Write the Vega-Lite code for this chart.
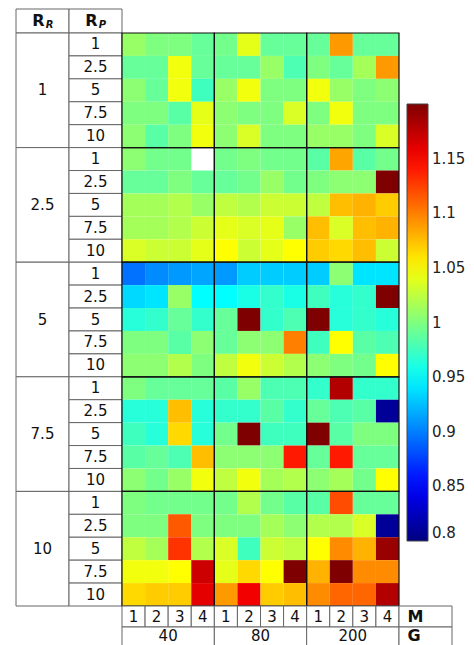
{
"$schema":"https://vega.github.io/schema/vega-lite/v6.json",
"padding":{"left":15,"top":8,"right":0,"bottom":0},
"background":"white",
"config":{"view":{"stroke":null},"font":"DejaVu Sans","concat":{"spacing":0}},
"datasets":{
"cells":[
{"rr":1,"rp":1,"g":40,"m":1,"v":1.01},{"rr":1,"rp":1,"g":40,"m":2,"v":1.0},{"rr":1,"rp":1,"g":40,"m":3,"v":1.0},{"rr":1,"rp":1,"g":40,"m":4,"v":0.99},
{"rr":1,"rp":1,"g":80,"m":1,"v":0.995},{"rr":1,"rp":1,"g":80,"m":2,"v":1.04},{"rr":1,"rp":1,"g":80,"m":3,"v":0.99},{"rr":1,"rp":1,"g":80,"m":4,"v":0.99},
{"rr":1,"rp":1,"g":200,"m":1,"v":0.99},{"rr":1,"rp":1,"g":200,"m":2,"v":1.09},{"rr":1,"rp":1,"g":200,"m":3,"v":0.99},{"rr":1,"rp":1,"g":200,"m":4,"v":0.99},
{"rr":1,"rp":2.5,"g":40,"m":1,"v":0.99},{"rr":1,"rp":2.5,"g":40,"m":2,"v":0.99},{"rr":1,"rp":2.5,"g":40,"m":3,"v":1.045},{"rr":1,"rp":2.5,"g":40,"m":4,"v":0.99},
{"rr":1,"rp":2.5,"g":80,"m":1,"v":0.99},{"rr":1,"rp":2.5,"g":80,"m":2,"v":0.99},{"rr":1,"rp":2.5,"g":80,"m":3,"v":1.01},{"rr":1,"rp":2.5,"g":80,"m":4,"v":0.98},
{"rr":1,"rp":2.5,"g":200,"m":1,"v":1.0},{"rr":1,"rp":2.5,"g":200,"m":2,"v":0.99},{"rr":1,"rp":2.5,"g":200,"m":3,"v":1.015},{"rr":1,"rp":2.5,"g":200,"m":4,"v":1.09},
{"rr":1,"rp":5,"g":40,"m":1,"v":1.005},{"rr":1,"rp":5,"g":40,"m":2,"v":0.99},{"rr":1,"rp":5,"g":40,"m":3,"v":1.045},{"rr":1,"rp":5,"g":40,"m":4,"v":0.975},
{"rr":1,"rp":5,"g":80,"m":1,"v":1.01},{"rr":1,"rp":5,"g":80,"m":2,"v":1.045},{"rr":1,"rp":5,"g":80,"m":3,"v":1.0},{"rr":1,"rp":5,"g":80,"m":4,"v":1.0},
{"rr":1,"rp":5,"g":200,"m":1,"v":1.045},{"rr":1,"rp":5,"g":200,"m":2,"v":1.01},{"rr":1,"rp":5,"g":200,"m":3,"v":1.0},{"rr":1,"rp":5,"g":200,"m":4,"v":1.005},
{"rr":1,"rp":7.5,"g":40,"m":1,"v":1.0},{"rr":1,"rp":7.5,"g":40,"m":2,"v":1.0},{"rr":1,"rp":7.5,"g":40,"m":3,"v":0.985},{"rr":1,"rp":7.5,"g":40,"m":4,"v":1.04},
{"rr":1,"rp":7.5,"g":80,"m":1,"v":1.005},{"rr":1,"rp":7.5,"g":80,"m":2,"v":1.0},{"rr":1,"rp":7.5,"g":80,"m":3,"v":1.0},{"rr":1,"rp":7.5,"g":80,"m":4,"v":1.035},
{"rr":1,"rp":7.5,"g":200,"m":1,"v":1.0},{"rr":1,"rp":7.5,"g":200,"m":2,"v":1.045},{"rr":1,"rp":7.5,"g":200,"m":3,"v":1.0},{"rr":1,"rp":7.5,"g":200,"m":4,"v":1.0},
{"rr":1,"rp":10,"g":40,"m":1,"v":1.005},{"rr":1,"rp":10,"g":40,"m":2,"v":0.985},{"rr":1,"rp":10,"g":40,"m":3,"v":1.0},{"rr":1,"rp":10,"g":40,"m":4,"v":1.045},
{"rr":1,"rp":10,"g":80,"m":1,"v":1.005},{"rr":1,"rp":10,"g":80,"m":2,"v":1.035},{"rr":1,"rp":10,"g":80,"m":3,"v":1.0},{"rr":1,"rp":10,"g":80,"m":4,"v":1.0},
{"rr":1,"rp":10,"g":200,"m":1,"v":1.01},{"rr":1,"rp":10,"g":200,"m":2,"v":1.01},{"rr":1,"rp":10,"g":200,"m":3,"v":1.0},{"rr":1,"rp":10,"g":200,"m":4,"v":1.035},

{"rr":2.5,"rp":1,"g":40,"m":1,"v":1.005},{"rr":2.5,"rp":1,"g":40,"m":2,"v":0.995},{"rr":2.5,"rp":1,"g":40,"m":3,"v":0.995},
{"rr":2.5,"rp":1,"g":80,"m":1,"v":0.995},{"rr":2.5,"rp":1,"g":80,"m":2,"v":1.0},{"rr":2.5,"rp":1,"g":80,"m":3,"v":0.995},{"rr":2.5,"rp":1,"g":80,"m":4,"v":0.995},
{"rr":2.5,"rp":1,"g":200,"m":1,"v":0.985},{"rr":2.5,"rp":1,"g":200,"m":2,"v":1.085},{"rr":2.5,"rp":1,"g":200,"m":3,"v":0.985},{"rr":2.5,"rp":1,"g":200,"m":4,"v":0.995},
{"rr":2.5,"rp":2.5,"g":40,"m":1,"v":0.99},{"rr":2.5,"rp":2.5,"g":40,"m":2,"v":0.99},{"rr":2.5,"rp":2.5,"g":40,"m":3,"v":1.0},{"rr":2.5,"rp":2.5,"g":40,"m":4,"v":0.99},
{"rr":2.5,"rp":2.5,"g":80,"m":1,"v":0.99},{"rr":2.5,"rp":2.5,"g":80,"m":2,"v":0.995},{"rr":2.5,"rp":2.5,"g":80,"m":3,"v":1.01},{"rr":2.5,"rp":2.5,"g":80,"m":4,"v":0.995},
{"rr":2.5,"rp":2.5,"g":200,"m":1,"v":1.0},{"rr":2.5,"rp":2.5,"g":200,"m":2,"v":1.005},{"rr":2.5,"rp":2.5,"g":200,"m":3,"v":1.005},{"rr":2.5,"rp":2.5,"g":200,"m":4,"v":1.2},
{"rr":2.5,"rp":5,"g":40,"m":1,"v":1.015},{"rr":2.5,"rp":5,"g":40,"m":2,"v":1.015},{"rr":2.5,"rp":5,"g":40,"m":3,"v":1.02},{"rr":2.5,"rp":5,"g":40,"m":4,"v":1.01},
{"rr":2.5,"rp":5,"g":80,"m":1,"v":1.025},{"rr":2.5,"rp":5,"g":80,"m":2,"v":1.02},{"rr":2.5,"rp":5,"g":80,"m":3,"v":1.03},{"rr":2.5,"rp":5,"g":80,"m":4,"v":1.03},
{"rr":2.5,"rp":5,"g":200,"m":1,"v":1.025},{"rr":2.5,"rp":5,"g":200,"m":2,"v":1.075},{"rr":2.5,"rp":5,"g":200,"m":3,"v":1.08},{"rr":2.5,"rp":5,"g":200,"m":4,"v":1.07},
{"rr":2.5,"rp":7.5,"g":40,"m":1,"v":1.015},{"rr":2.5,"rp":7.5,"g":40,"m":2,"v":1.015},{"rr":2.5,"rp":7.5,"g":40,"m":3,"v":1.02},{"rr":2.5,"rp":7.5,"g":40,"m":4,"v":1.03},
{"rr":2.5,"rp":7.5,"g":80,"m":1,"v":1.04},{"rr":2.5,"rp":7.5,"g":80,"m":2,"v":1.035},{"rr":2.5,"rp":7.5,"g":80,"m":3,"v":1.04},{"rr":2.5,"rp":7.5,"g":80,"m":4,"v":1.01},
{"rr":2.5,"rp":7.5,"g":200,"m":1,"v":1.075},{"rr":2.5,"rp":7.5,"g":200,"m":2,"v":1.035},{"rr":2.5,"rp":7.5,"g":200,"m":3,"v":1.075},{"rr":2.5,"rp":7.5,"g":200,"m":4,"v":1.08},
{"rr":2.5,"rp":10,"g":40,"m":1,"v":1.035},{"rr":2.5,"rp":10,"g":40,"m":2,"v":1.03},{"rr":2.5,"rp":10,"g":40,"m":3,"v":1.03},{"rr":2.5,"rp":10,"g":40,"m":4,"v":1.04},
{"rr":2.5,"rp":10,"g":80,"m":1,"v":1.05},{"rr":2.5,"rp":10,"g":80,"m":2,"v":1.03},{"rr":2.5,"rp":10,"g":80,"m":3,"v":1.04},{"rr":2.5,"rp":10,"g":80,"m":4,"v":1.05},
{"rr":2.5,"rp":10,"g":200,"m":1,"v":1.07},{"rr":2.5,"rp":10,"g":200,"m":2,"v":1.065},{"rr":2.5,"rp":10,"g":200,"m":3,"v":1.075},{"rr":2.5,"rp":10,"g":200,"m":4,"v":1.03},

{"rr":5,"rp":1,"g":40,"m":1,"v":0.895},{"rr":5,"rp":1,"g":40,"m":2,"v":0.905},{"rr":5,"rp":1,"g":40,"m":3,"v":0.91},{"rr":5,"rp":1,"g":40,"m":4,"v":0.915},
{"rr":5,"rp":1,"g":80,"m":1,"v":0.91},{"rr":5,"rp":1,"g":80,"m":2,"v":0.93},{"rr":5,"rp":1,"g":80,"m":3,"v":0.93},{"rr":5,"rp":1,"g":80,"m":4,"v":0.93},
{"rr":5,"rp":1,"g":200,"m":1,"v":0.93},{"rr":5,"rp":1,"g":200,"m":2,"v":1.005},{"rr":5,"rp":1,"g":200,"m":3,"v":0.94},{"rr":5,"rp":1,"g":200,"m":4,"v":0.94},
{"rr":5,"rp":2.5,"g":40,"m":1,"v":0.935},{"rr":5,"rp":2.5,"g":40,"m":2,"v":0.94},{"rr":5,"rp":2.5,"g":40,"m":3,"v":1.01},{"rr":5,"rp":2.5,"g":40,"m":4,"v":0.95},
{"rr":5,"rp":2.5,"g":80,"m":1,"v":0.95},{"rr":5,"rp":2.5,"g":80,"m":2,"v":0.96},{"rr":5,"rp":2.5,"g":80,"m":3,"v":0.97},{"rr":5,"rp":2.5,"g":80,"m":4,"v":0.96},
{"rr":5,"rp":2.5,"g":200,"m":1,"v":0.975},{"rr":5,"rp":2.5,"g":200,"m":2,"v":0.965},{"rr":5,"rp":2.5,"g":200,"m":3,"v":0.97},{"rr":5,"rp":2.5,"g":200,"m":4,"v":1.2},
{"rr":5,"rp":5,"g":40,"m":1,"v":0.965},{"rr":5,"rp":5,"g":40,"m":2,"v":0.97},{"rr":5,"rp":5,"g":40,"m":3,"v":0.99},{"rr":5,"rp":5,"g":40,"m":4,"v":0.97},
{"rr":5,"rp":5,"g":80,"m":1,"v":0.99},{"rr":5,"rp":5,"g":80,"m":2,"v":1.2},{"rr":5,"rp":5,"g":80,"m":3,"v":0.97},{"rr":5,"rp":5,"g":80,"m":4,"v":0.98},
{"rr":5,"rp":5,"g":200,"m":1,"v":1.2},{"rr":5,"rp":5,"g":200,"m":2,"v":0.965},{"rr":5,"rp":5,"g":200,"m":3,"v":0.97},{"rr":5,"rp":5,"g":200,"m":4,"v":0.965},
{"rr":5,"rp":7.5,"g":40,"m":1,"v":1.0},{"rr":5,"rp":7.5,"g":40,"m":2,"v":1.0},{"rr":5,"rp":7.5,"g":40,"m":3,"v":0.985},{"rr":5,"rp":7.5,"g":40,"m":4,"v":1.005},
{"rr":5,"rp":7.5,"g":80,"m":1,"v":0.99},{"rr":5,"rp":7.5,"g":80,"m":2,"v":1.005},{"rr":5,"rp":7.5,"g":80,"m":3,"v":1.005},{"rr":5,"rp":7.5,"g":80,"m":4,"v":1.1},
{"rr":5,"rp":7.5,"g":200,"m":1,"v":0.975},{"rr":5,"rp":7.5,"g":200,"m":2,"v":1.05},{"rr":5,"rp":7.5,"g":200,"m":3,"v":0.985},{"rr":5,"rp":7.5,"g":200,"m":4,"v":0.98},
{"rr":5,"rp":10,"g":40,"m":1,"v":1.005},{"rr":5,"rp":10,"g":40,"m":2,"v":1.005},{"rr":5,"rp":10,"g":40,"m":3,"v":1.02},{"rr":5,"rp":10,"g":40,"m":4,"v":1.0},
{"rr":5,"rp":10,"g":80,"m":1,"v":1.025},{"rr":5,"rp":10,"g":80,"m":2,"v":1.045},{"rr":5,"rp":10,"g":80,"m":3,"v":1.03},{"rr":5,"rp":10,"g":80,"m":4,"v":1.02},
{"rr":5,"rp":10,"g":200,"m":1,"v":1.005},{"rr":5,"rp":10,"g":200,"m":2,"v":1.0},{"rr":5,"rp":10,"g":200,"m":3,"v":0.995},{"rr":5,"rp":10,"g":200,"m":4,"v":1.05},

{"rr":7.5,"rp":1,"g":40,"m":1,"v":1.0},{"rr":7.5,"rp":1,"g":40,"m":2,"v":0.99},{"rr":7.5,"rp":1,"g":40,"m":3,"v":0.99},{"rr":7.5,"rp":1,"g":40,"m":4,"v":0.99},
{"rr":7.5,"rp":1,"g":80,"m":1,"v":0.985},{"rr":7.5,"rp":1,"g":80,"m":2,"v":1.01},{"rr":7.5,"rp":1,"g":80,"m":3,"v":0.98},{"rr":7.5,"rp":1,"g":80,"m":4,"v":0.98},
{"rr":7.5,"rp":1,"g":200,"m":1,"v":0.97},{"rr":7.5,"rp":1,"g":200,"m":2,"v":1.18},{"rr":7.5,"rp":1,"g":200,"m":3,"v":0.97},{"rr":7.5,"rp":1,"g":200,"m":4,"v":0.97},
{"rr":7.5,"rp":2.5,"g":40,"m":1,"v":0.965},{"rr":7.5,"rp":2.5,"g":40,"m":2,"v":0.965},{"rr":7.5,"rp":2.5,"g":40,"m":3,"v":1.075},{"rr":7.5,"rp":2.5,"g":40,"m":4,"v":0.965},
{"rr":7.5,"rp":2.5,"g":80,"m":1,"v":0.97},{"rr":7.5,"rp":2.5,"g":80,"m":2,"v":0.97},{"rr":7.5,"rp":2.5,"g":80,"m":3,"v":0.985},{"rr":7.5,"rp":2.5,"g":80,"m":4,"v":0.97},
{"rr":7.5,"rp":2.5,"g":200,"m":1,"v":0.99},{"rr":7.5,"rp":2.5,"g":200,"m":2,"v":0.98},{"rr":7.5,"rp":2.5,"g":200,"m":3,"v":0.985},{"rr":7.5,"rp":2.5,"g":200,"m":4,"v":0.81},
{"rr":7.5,"rp":5,"g":40,"m":1,"v":0.975},{"rr":7.5,"rp":5,"g":40,"m":2,"v":0.965},{"rr":7.5,"rp":5,"g":40,"m":3,"v":1.065},{"rr":7.5,"rp":5,"g":40,"m":4,"v":0.965},
{"rr":7.5,"rp":5,"g":80,"m":1,"v":0.995},{"rr":7.5,"rp":5,"g":80,"m":2,"v":1.2},{"rr":7.5,"rp":5,"g":80,"m":3,"v":0.975},{"rr":7.5,"rp":5,"g":80,"m":4,"v":0.975},
{"rr":7.5,"rp":5,"g":200,"m":1,"v":1.2},{"rr":7.5,"rp":5,"g":200,"m":2,"v":0.985},{"rr":7.5,"rp":5,"g":200,"m":3,"v":1.0},{"rr":7.5,"rp":5,"g":200,"m":4,"v":1.0},
{"rr":7.5,"rp":7.5,"g":40,"m":1,"v":0.985},{"rr":7.5,"rp":7.5,"g":40,"m":2,"v":0.99},{"rr":7.5,"rp":7.5,"g":40,"m":3,"v":0.98},{"rr":7.5,"rp":7.5,"g":40,"m":4,"v":1.075},
{"rr":7.5,"rp":7.5,"g":80,"m":1,"v":1.005},{"rr":7.5,"rp":7.5,"g":80,"m":2,"v":1.005},{"rr":7.5,"rp":7.5,"g":80,"m":3,"v":1.005},{"rr":7.5,"rp":7.5,"g":80,"m":4,"v":1.14},
{"rr":7.5,"rp":7.5,"g":200,"m":1,"v":0.99},{"rr":7.5,"rp":7.5,"g":200,"m":2,"v":1.14},{"rr":7.5,"rp":7.5,"g":200,"m":3,"v":0.99},{"rr":7.5,"rp":7.5,"g":200,"m":4,"v":0.99},
{"rr":7.5,"rp":10,"g":40,"m":1,"v":1.005},{"rr":7.5,"rp":10,"g":40,"m":2,"v":0.995},{"rr":7.5,"rp":10,"g":40,"m":3,"v":1.01},{"rr":7.5,"rp":10,"g":40,"m":4,"v":1.045},
{"rr":7.5,"rp":10,"g":80,"m":1,"v":1.025},{"rr":7.5,"rp":10,"g":80,"m":2,"v":1.045},{"rr":7.5,"rp":10,"g":80,"m":3,"v":1.015},{"rr":7.5,"rp":10,"g":80,"m":4,"v":1.02},
{"rr":7.5,"rp":10,"g":200,"m":1,"v":1.005},{"rr":7.5,"rp":10,"g":200,"m":2,"v":1.015},{"rr":7.5,"rp":10,"g":200,"m":3,"v":0.995},{"rr":7.5,"rp":10,"g":200,"m":4,"v":1.05},

{"rr":10,"rp":1,"g":40,"m":1,"v":1.0},{"rr":10,"rp":1,"g":40,"m":2,"v":0.995},{"rr":10,"rp":1,"g":40,"m":3,"v":0.995},{"rr":10,"rp":1,"g":40,"m":4,"v":0.995},
{"rr":10,"rp":1,"g":80,"m":1,"v":0.995},{"rr":10,"rp":1,"g":80,"m":2,"v":1.02},{"rr":10,"rp":1,"g":80,"m":3,"v":0.995},{"rr":10,"rp":1,"g":80,"m":4,"v":0.985},
{"rr":10,"rp":1,"g":200,"m":1,"v":0.985},{"rr":10,"rp":1,"g":200,"m":2,"v":1.12},{"rr":10,"rp":1,"g":200,"m":3,"v":0.99},{"rr":10,"rp":1,"g":200,"m":4,"v":0.99},
{"rr":10,"rp":2.5,"g":40,"m":1,"v":1.0},{"rr":10,"rp":2.5,"g":40,"m":2,"v":1.0},{"rr":10,"rp":2.5,"g":40,"m":3,"v":1.115},{"rr":10,"rp":2.5,"g":40,"m":4,"v":1.0},
{"rr":10,"rp":2.5,"g":80,"m":1,"v":1.0},{"rr":10,"rp":2.5,"g":80,"m":2,"v":1.0},{"rr":10,"rp":2.5,"g":80,"m":3,"v":1.015},{"rr":10,"rp":2.5,"g":80,"m":4,"v":1.005},
{"rr":10,"rp":2.5,"g":200,"m":1,"v":1.02},{"rr":10,"rp":2.5,"g":200,"m":2,"v":1.02},{"rr":10,"rp":2.5,"g":200,"m":3,"v":1.035},{"rr":10,"rp":2.5,"g":200,"m":4,"v":0.81},
{"rr":10,"rp":5,"g":40,"m":1,"v":1.025},{"rr":10,"rp":5,"g":40,"m":2,"v":1.015},{"rr":10,"rp":5,"g":40,"m":3,"v":1.13},{"rr":10,"rp":5,"g":40,"m":4,"v":1.02},
{"rr":10,"rp":5,"g":80,"m":1,"v":1.035},{"rr":10,"rp":5,"g":80,"m":2,"v":0.975},{"rr":10,"rp":5,"g":80,"m":3,"v":1.03},{"rr":10,"rp":5,"g":80,"m":4,"v":1.025},
{"rr":10,"rp":5,"g":200,"m":1,"v":1.05},{"rr":10,"rp":5,"g":200,"m":2,"v":1.095},{"rr":10,"rp":5,"g":200,"m":3,"v":1.08},{"rr":10,"rp":5,"g":200,"m":4,"v":1.19},
{"rr":10,"rp":7.5,"g":40,"m":1,"v":1.045},{"rr":10,"rp":7.5,"g":40,"m":2,"v":1.045},{"rr":10,"rp":7.5,"g":40,"m":3,"v":1.05},{"rr":10,"rp":7.5,"g":40,"m":4,"v":1.17},
{"rr":10,"rp":7.5,"g":80,"m":1,"v":1.04},{"rr":10,"rp":7.5,"g":80,"m":2,"v":1.065},{"rr":10,"rp":7.5,"g":80,"m":3,"v":1.05},{"rr":10,"rp":7.5,"g":80,"m":4,"v":1.2},
{"rr":10,"rp":7.5,"g":200,"m":1,"v":1.08},{"rr":10,"rp":7.5,"g":200,"m":2,"v":1.2},{"rr":10,"rp":7.5,"g":200,"m":3,"v":1.095},{"rr":10,"rp":7.5,"g":200,"m":4,"v":1.095},
{"rr":10,"rp":10,"g":40,"m":1,"v":1.065},{"rr":10,"rp":10,"g":40,"m":2,"v":1.07},{"rr":10,"rp":10,"g":40,"m":3,"v":1.07},{"rr":10,"rp":10,"g":40,"m":4,"v":1.16},
{"rr":10,"rp":10,"g":80,"m":1,"v":1.09},{"rr":10,"rp":10,"g":80,"m":2,"v":1.155},{"rr":10,"rp":10,"g":80,"m":3,"v":1.07},{"rr":10,"rp":10,"g":80,"m":4,"v":1.075},
{"rr":10,"rp":10,"g":200,"m":1,"v":1.095},{"rr":10,"rp":10,"g":200,"m":2,"v":1.11},{"rr":10,"rp":10,"g":200,"m":3,"v":1.11},{"rr":10,"rp":10,"g":200,"m":4,"v":1.18}
],
"rrs":[{"rr":1},{"rr":2.5},{"rr":5},{"rr":7.5},{"rr":10}],
"rows":[
{"rr":1,"rp":1},{"rr":1,"rp":2.5},{"rr":1,"rp":5},{"rr":1,"rp":7.5},{"rr":1,"rp":10},
{"rr":2.5,"rp":1},{"rr":2.5,"rp":2.5},{"rr":2.5,"rp":5},{"rr":2.5,"rp":7.5},{"rr":2.5,"rp":10},
{"rr":5,"rp":1},{"rr":5,"rp":2.5},{"rr":5,"rp":5},{"rr":5,"rp":7.5},{"rr":5,"rp":10},
{"rr":7.5,"rp":1},{"rr":7.5,"rp":2.5},{"rr":7.5,"rp":5},{"rr":7.5,"rp":7.5},{"rr":7.5,"rp":10},
{"rr":10,"rp":1},{"rr":10,"rp":2.5},{"rr":10,"rp":5},{"rr":10,"rp":7.5},{"rr":10,"rp":10}
],
"cols":[
{"g":40,"m":1},{"g":40,"m":2},{"g":40,"m":3},{"g":40,"m":4},
{"g":80,"m":1},{"g":80,"m":2},{"g":80,"m":3},{"g":80,"m":4},
{"g":200,"m":1},{"g":200,"m":2},{"g":200,"m":3},{"g":200,"m":4}
],
"gs":[{"g":40},{"g":80},{"g":200}]
},
"spacing":0,
"bounds":"flush",
"align":"each",
"columns":4,
"concat":[
 {"width":53,"height":24,"data":{"values":[{"h":"R","s":"R"}]},
  "layer":[
   {"mark":{"type":"rect","fill":"white","stroke":"#666","strokeWidth":1},"encoding":{}},
   {"mark":{"type":"text","fontWeight":"bold","fontSize":16,"dx":-4,"color":"#111"},"encoding":{"text":{"field":"h","type":"nominal"}}},
   {"mark":{"type":"text","fontWeight":"bold","fontStyle":"italic","fontSize":10,"dx":7,"dy":4,"color":"#111"},"encoding":{"text":{"field":"s","type":"nominal"}}}
  ]},
 {"width":53,"height":24,"data":{"values":[{"h":"R","s":"P"}]},
  "layer":[
   {"mark":{"type":"rect","fill":"white","stroke":"#666","strokeWidth":1},"encoding":{}},
   {"mark":{"type":"text","fontWeight":"bold","fontSize":16,"dx":-4,"color":"#111"},"encoding":{"text":{"field":"h","type":"nominal"}}},
   {"mark":{"type":"text","fontWeight":"bold","fontStyle":"italic","fontSize":10,"dx":7,"dy":4,"color":"#111"},"encoding":{"text":{"field":"s","type":"nominal"}}}
  ]},
 {"width":277,"height":24,"data":{"values":[{"e":1}]},"mark":{"type":"rect","opacity":0},"encoding":{}},
 {"width":53,"height":24,"data":{"values":[{"e":1}]},"mark":{"type":"rect","opacity":0},"encoding":{}},

 {"width":53,"height":573,"data":{"name":"rrs"},
  "encoding":{"y":{"field":"rr","type":"ordinal","axis":null,"scale":{"paddingInner":0,"paddingOuter":0}}},
  "layer":[
   {"mark":{"type":"rect","fill":"white","stroke":"#666","strokeWidth":1}},
   {"mark":{"type":"text","fontSize":15,"color":"#111"},"encoding":{"text":{"field":"rr","type":"nominal"}}}
  ]},
 {"width":53,"height":573,"data":{"name":"rows"},
  "encoding":{"y":{"field":"rr","type":"ordinal","axis":null,"scale":{"paddingInner":0,"paddingOuter":0}},
              "yOffset":{"field":"rp","type":"ordinal","scale":{"paddingInner":0,"paddingOuter":0}}},
  "layer":[
   {"mark":{"type":"rect","fill":"white","stroke":"#666","strokeWidth":1}},
   {"mark":{"type":"text","fontSize":15,"color":"#111"},"encoding":{"text":{"field":"rp","type":"nominal"}}}
  ]},
 {"width":277,"height":573,"data":{"name":"cells"},
  "layer":[
   {"mark":{"type":"rect"},
    "encoding":{
     "x":{"field":"g","type":"ordinal","axis":null,"scale":{"paddingInner":0,"paddingOuter":0}},
     "xOffset":{"field":"m","type":"ordinal","scale":{"paddingInner":0,"paddingOuter":0}},
     "y":{"field":"rr","type":"ordinal","axis":null,"scale":{"paddingInner":0,"paddingOuter":0}},
     "yOffset":{"field":"rp","type":"ordinal","scale":{"paddingInner":0,"paddingOuter":0}},
     "color":{"field":"v","type":"quantitative",
       "scale":{"domain":[0.8,1.2],"range":["#00007f","#0000ff","#007fff","#00ffff","#7fff7f","#ffff00","#ff7f00","#ff0000","#7f0000"],"interpolate":"rgb"},
       "legend":{"orient":"none","legendX":391,"legendY":95,"direction":"vertical","gradientLength":437,"gradientThickness":21,"title":null,
         "values":[0.8,0.85,0.9,0.95,1,1.05,1.1,1.15],"format":".3~g","labelFont":"DejaVu Sans","labelFontSize":15,"labelColor":"#222",
         "labelOffset":4,"gradientStrokeColor":"#444","gradientStrokeWidth":1,"labelOverlap":false}}
    }},
   {"transform":[{"aggregate":[{"op":"count","as":"n"}],"groupby":["rr","g"]}],
    "mark":{"type":"rect","fill":null,"fillOpacity":0,"stroke":"#111","strokeWidth":1.2},
    "encoding":{
     "x":{"field":"g","type":"ordinal","axis":null},
     "y":{"field":"rr","type":"ordinal","axis":null}
    }}
  ]},
 {"width":53,"height":573,"data":{"values":[{"e":1}]},"mark":{"type":"rect","opacity":0},"encoding":{}},

 {"width":53,"height":21,"data":{"values":[{"e":1}]},"mark":{"type":"rect","opacity":0},"encoding":{}},
 {"width":53,"height":21,"data":{"values":[{"e":1}]},"mark":{"type":"rect","opacity":0},"encoding":{}},
 {"width":277,"height":21,"data":{"name":"cols"},
  "encoding":{"x":{"field":"g","type":"ordinal","axis":null,"scale":{"paddingInner":0,"paddingOuter":0}},
              "xOffset":{"field":"m","type":"ordinal","scale":{"paddingInner":0,"paddingOuter":0}}},
  "layer":[
   {"mark":{"type":"rect","fill":"white","stroke":"#666","strokeWidth":1}},
   {"mark":{"type":"text","fontSize":15,"color":"#111"},"encoding":{"text":{"field":"m","type":"nominal"}}}
  ]},
 {"width":53,"height":21,"data":{"values":[{"t":"M"}]},
  "layer":[
   {"mark":{"type":"rect","fill":"white","stroke":"#666","strokeWidth":1},"encoding":{}},
   {"mark":{"type":"text","fontSize":16,"fontWeight":"bold","color":"#111","align":"left","dx":-18},"encoding":{"text":{"field":"t","type":"nominal"}}}
  ]},

 {"width":53,"height":22,"data":{"values":[{"e":1}]},"mark":{"type":"rect","opacity":0},"encoding":{}},
 {"width":53,"height":22,"data":{"values":[{"e":1}]},"mark":{"type":"rect","opacity":0},"encoding":{}},
 {"width":277,"height":22,"data":{"name":"gs"},
  "encoding":{"x":{"field":"g","type":"ordinal","axis":null,"scale":{"paddingInner":0,"paddingOuter":0}}},
  "layer":[
   {"mark":{"type":"rect","fill":"white","stroke":"#666","strokeWidth":1}},
   {"mark":{"type":"text","fontSize":15,"color":"#111","dy":-2},"encoding":{"text":{"field":"g","type":"nominal"}}}
  ]},
 {"width":53,"height":22,"data":{"values":[{"t":"G"}]},
  "layer":[
   {"mark":{"type":"rect","fill":"white","stroke":"#666","strokeWidth":1},"encoding":{}},
   {"mark":{"type":"text","fontSize":16,"fontWeight":"bold","color":"#111","align":"left","dx":-18,"dy":-2},"encoding":{"text":{"field":"t","type":"nominal"}}}
  ]}
]
}
